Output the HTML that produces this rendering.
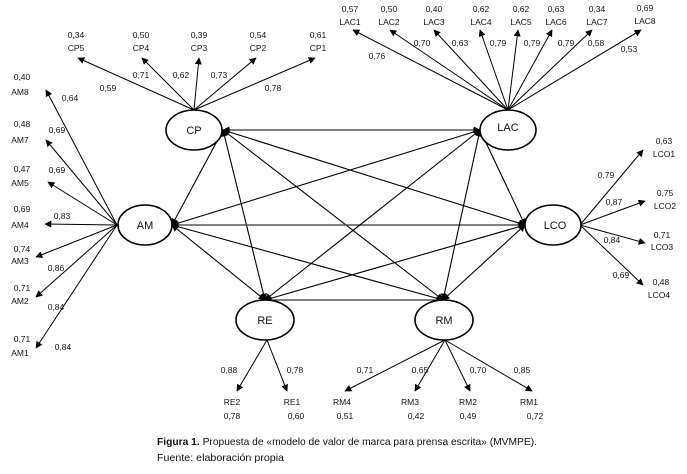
<!DOCTYPE html>
<html><head><meta charset="utf-8"><style>
html,body{margin:0;padding:0;background:#fff;}
svg{display:block;font-family:"Liberation Sans",sans-serif;}
text{font-size:8.5px;fill:#111;}
</style></head><body>
<svg width="687" height="474" viewBox="0 0 687 474" xmlns="http://www.w3.org/2000/svg">
<defs>
<marker id="a" viewBox="0 0 10 10" refX="9" refY="5" markerWidth="7" markerHeight="7" orient="auto-start-reverse" markerUnits="userSpaceOnUse"><path d="M0,0 L10,5 L0,10 z" fill="#000"/></marker>
</defs>
<g stroke="#000" stroke-width="1" fill="none">
<line x1="194" y1="110" x2="78" y2="58" marker-end="url(#a)"/>
<line x1="194" y1="110" x2="142" y2="58" marker-end="url(#a)"/>
<line x1="194" y1="110" x2="199" y2="58" marker-end="url(#a)"/>
<line x1="194" y1="110" x2="256" y2="58" marker-end="url(#a)"/>
<line x1="194" y1="110" x2="315" y2="58" marker-end="url(#a)"/>
<line x1="508" y1="110" x2="353" y2="30" marker-end="url(#a)"/>
<line x1="508" y1="110" x2="390" y2="30" marker-end="url(#a)"/>
<line x1="508" y1="110" x2="434" y2="30" marker-end="url(#a)"/>
<line x1="508" y1="110" x2="480" y2="30" marker-end="url(#a)"/>
<line x1="508" y1="110" x2="518" y2="30" marker-end="url(#a)"/>
<line x1="508" y1="110" x2="552" y2="30" marker-end="url(#a)"/>
<line x1="508" y1="110" x2="592" y2="30" marker-end="url(#a)"/>
<line x1="508" y1="110" x2="641" y2="30" marker-end="url(#a)"/>
<line x1="117" y1="225" x2="46" y2="90" marker-end="url(#a)"/>
<line x1="117" y1="225" x2="46" y2="140" marker-end="url(#a)"/>
<line x1="117" y1="225" x2="48" y2="182" marker-end="url(#a)"/>
<line x1="117" y1="225" x2="45" y2="224" marker-end="url(#a)"/>
<line x1="117" y1="225" x2="36" y2="257" marker-end="url(#a)"/>
<line x1="117" y1="225" x2="36" y2="297" marker-end="url(#a)"/>
<line x1="117" y1="225" x2="36" y2="348" marker-end="url(#a)"/>
<line x1="580" y1="225" x2="643" y2="150" marker-end="url(#a)"/>
<line x1="580" y1="225" x2="645" y2="201" marker-end="url(#a)"/>
<line x1="580" y1="225" x2="645" y2="243" marker-end="url(#a)"/>
<line x1="580" y1="225" x2="643" y2="285" marker-end="url(#a)"/>
<line x1="267" y1="340" x2="237" y2="391" marker-end="url(#a)"/>
<line x1="267" y1="340" x2="287" y2="391" marker-end="url(#a)"/>
<line x1="445" y1="340" x2="345" y2="391" marker-end="url(#a)"/>
<line x1="445" y1="340" x2="415" y2="391" marker-end="url(#a)"/>
<line x1="445" y1="340" x2="470" y2="391" marker-end="url(#a)"/>
<line x1="445" y1="340" x2="532" y2="391" marker-end="url(#a)"/>
<g stroke-width="1.1">
<line x1="223" y1="130" x2="480" y2="130" marker-start="url(#a)" marker-end="url(#a)" stroke="#555" stroke-width="1.4"/>
<line x1="223" y1="130" x2="525" y2="225" marker-start="url(#a)" marker-end="url(#a)"/>
<line x1="223" y1="130" x2="265" y2="300" marker-start="url(#a)" marker-end="url(#a)"/>
<line x1="223" y1="130" x2="443" y2="300" marker-start="url(#a)" marker-end="url(#a)"/>
<line x1="172" y1="225" x2="223" y2="130" marker-start="url(#a)" marker-end="url(#a)"/>
<line x1="172" y1="225" x2="480" y2="130" marker-start="url(#a)" marker-end="url(#a)"/>
<line x1="172" y1="225" x2="525" y2="225" marker-start="url(#a)" marker-end="url(#a)" stroke="#555" stroke-width="1.4"/>
<line x1="172" y1="225" x2="265" y2="300" marker-start="url(#a)" marker-end="url(#a)"/>
<line x1="172" y1="225" x2="443" y2="300" marker-start="url(#a)" marker-end="url(#a)"/>
<line x1="480" y1="130" x2="265" y2="300" marker-start="url(#a)" marker-end="url(#a)"/>
<line x1="480" y1="130" x2="443" y2="300" marker-start="url(#a)" marker-end="url(#a)"/>
<line x1="480" y1="130" x2="525" y2="225" marker-start="url(#a)" marker-end="url(#a)"/>
<line x1="525" y1="225" x2="265" y2="300" marker-start="url(#a)" marker-end="url(#a)"/>
<line x1="525" y1="225" x2="443" y2="300" marker-start="url(#a)" marker-end="url(#a)"/>
<line x1="265" y1="300" x2="443" y2="300" marker-start="url(#a)" marker-end="url(#a)"/>
</g>
<g fill="#fff" stroke-width="1.6">
<ellipse cx="194" cy="130" rx="28" ry="20"/>
<ellipse cx="508" cy="130" rx="28" ry="20"/>
<ellipse cx="145" cy="225" rx="27" ry="20"/>
<ellipse cx="553" cy="225" rx="28" ry="20"/>
<ellipse cx="265" cy="320" rx="29" ry="20"/>
<ellipse cx="444" cy="320" rx="29" ry="20"/>
</g>
</g>
<g text-anchor="middle">
<text x="194" y="134" style="font-size:11px">CP</text>
<text x="508" y="131" style="font-size:11px">LAC</text>
<text x="145" y="229" style="font-size:11px">AM</text>
<text x="555" y="229" style="font-size:11px">LCO</text>
<text x="265" y="324" style="font-size:11px">RE</text>
<text x="444" y="324" style="font-size:11px">RM</text>
</g>
<g text-anchor="middle">
<text x="76" y="38">0,34</text><text x="76" y="51">CP5</text>
<text x="141" y="38">0,50</text><text x="141" y="51">CP4</text>
<text x="199" y="38">0,39</text><text x="199" y="51">CP3</text>
<text x="258" y="38">0,54</text><text x="258" y="51">CP2</text>
<text x="318" y="38">0,61</text><text x="318" y="51">CP1</text>
<text x="108" y="91">0,59</text><text x="141" y="78">0,71</text><text x="181" y="78">0,62</text><text x="219" y="78">0,73</text><text x="273" y="91">0,78</text>
<text x="350" y="12">0,57</text><text x="350" y="25">LAC1</text>
<text x="389" y="12">0,50</text><text x="389" y="25">LAC2</text>
<text x="434" y="12">0,40</text><text x="434" y="25">LAC3</text>
<text x="481" y="12">0,62</text><text x="481" y="25">LAC4</text>
<text x="521" y="12">0,62</text><text x="521" y="25">LAC5</text>
<text x="556" y="12">0,63</text><text x="556" y="25">LAC6</text>
<text x="597" y="12">0,34</text><text x="597" y="25">LAC7</text>
<text x="645" y="11">0,69</text><text x="645" y="24">LAC8</text>
<text x="377" y="59">0,76</text><text x="422" y="46">0,70</text><text x="460" y="46">0,63</text><text x="498" y="46">0,79</text><text x="532" y="46">0,79</text><text x="566" y="46">0,79</text><text x="596" y="46">0,58</text><text x="629" y="52">0,53</text>
<text x="22" y="80">0,40</text><text x="20" y="95">AM8</text>
<text x="22" y="127">0,48</text><text x="20" y="143">AM7</text>
<text x="22" y="172">0,47</text><text x="20" y="186">AM5</text>
<text x="22" y="212">0,69</text><text x="20" y="228">AM4</text>
<text x="22" y="252">0,74</text><text x="20" y="264">AM3</text>
<text x="22" y="291">0,71</text><text x="20" y="304">AM2</text>
<text x="22" y="342">0,71</text><text x="20" y="356">AM1</text>
<text x="70" y="101">0,64</text><text x="57" y="133">0,69</text><text x="57" y="173">0,69</text><text x="62" y="219">0,83</text><text x="56" y="271">0,86</text><text x="56" y="310">0,84</text><text x="63" y="350">0,84</text>
<text x="664" y="144">0,63</text><text x="664" y="157">LCO1</text>
<text x="665" y="196">0,75</text><text x="665" y="209">LCO2</text>
<text x="662" y="238">0,71</text><text x="662" y="250">LCO3</text>
<text x="661" y="285">0,48</text><text x="659" y="298">LCO4</text>
<text x="606" y="178">0,79</text><text x="614" y="205">0,87</text><text x="612" y="243">0,84</text><text x="621" y="278">0,69</text>
<text x="229" y="373">0,88</text><text x="295" y="373">0,78</text>
<text x="232" y="405">RE2</text><text x="232" y="419">0,78</text>
<text x="292" y="405">RE1</text><text x="296" y="419">0,60</text>
<text x="365" y="373">0,71</text><text x="420" y="373">0,65</text><text x="478" y="373">0,70</text><text x="522" y="373">0,85</text>
<text x="342" y="405">RM4</text><text x="345" y="419">0,51</text>
<text x="410" y="405">RM3</text><text x="416" y="419">0,42</text>
<text x="468" y="405">RM2</text><text x="468" y="419">0,49</text>
<text x="529" y="405">RM1</text><text x="535" y="419">0,72</text>
</g>
<text x="157" y="445" textLength="380" lengthAdjust="spacingAndGlyphs" style="font-size:10.5px"><tspan font-weight="bold">Figura 1.</tspan>  Propuesta de «modelo de valor de marca para prensa escrita» (MVMPE).</text>
<text x="157" y="461" textLength="127" lengthAdjust="spacingAndGlyphs" style="font-size:10.5px">Fuente: elaboración propia</text>
</svg>
</body></html>
